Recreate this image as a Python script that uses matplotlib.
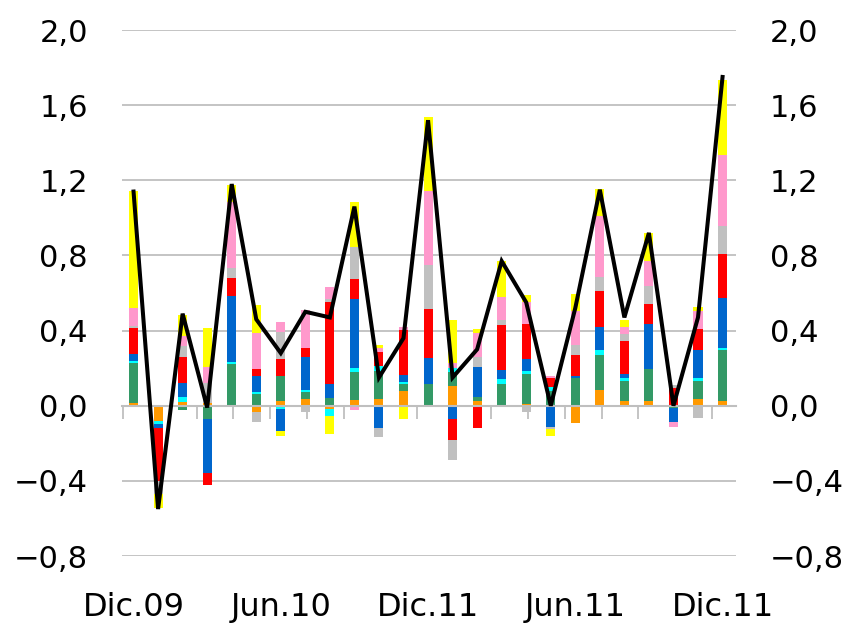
import numpy as np
import matplotlib
matplotlib.use("Agg")
import matplotlib.pyplot as plt
from matplotlib import font_manager
from matplotlib.ticker import FuncFormatter

plt.rcParams["font.family"] = ["DejaVu Sans"]

# narrow face for the month labels when available
instaladas = {f.name for f in font_manager.fontManager.ttflist}
if "Liberation Sans Narrow" in instaladas:
    FUENTE_MES, TAM_MES = "Liberation Sans Narrow", 27
else:
    FUENTE_MES, TAM_MES = "DejaVu Sans", 23

# monthly contributions, Dec-09 .. Dec-11 (25 months)
meses = np.arange(25)
etiquetas = {0: "Dic.09", 6: "Jun.10", 12: "Dic.11", 18: "Jun.11", 24: "Dic.11"}

naranja = [0.012, -0.08, 0.02, 0.012, 0.0, -0.035, 0.023, 0.034, -0.017, 0.029,
           0.036, 0.077, 0.0, 0.104, 0.023, 0.0, 0.01, 0.0, -0.093, 0.084,
           0.023, 0.023, 0.0, 0.034, 0.023]
verde = [0.215, 0.0, -0.023, -0.07, 0.224, 0.06, 0.136, 0.038, 0.04, 0.15,
         0.147, 0.038, 0.115, 0.075, 0.022, 0.115, 0.159, 0.08, 0.147, 0.186,
         0.107, 0.172, -0.01, 0.097, 0.274]
celeste = [0.011, -0.017, 0.029, 0.0, 0.011, 0.011, -0.017, 0.012, -0.038, 0.022,
           0.029, 0.013, 0.0, 0.022, 0.0, 0.029, 0.016, 0.018, 0.0, 0.027,
           0.016, 0.0, 0.0, 0.016, 0.011]
azul = [0.036, -0.023, 0.07, -0.29, 0.35, 0.088, -0.12, 0.175, 0.075, 0.366,
        -0.117, 0.038, 0.14, -0.07, 0.161, 0.048, 0.064, -0.115, 0.012, 0.122,
        0.025, 0.242, -0.077, 0.15, 0.263]
rojo = [0.14, -0.28, 0.14, -0.06, 0.093, 0.038, 0.09, 0.048, 0.438, 0.108,
        0.075, 0.235, 0.258, -0.111, -0.117, 0.235, 0.188, 0.048, 0.111, 0.19,
        0.174, 0.107, 0.095, 0.113, 0.236]
gris = [0.009, -0.07, 0.059, 0.11, 0.056, -0.052, 0.145, -0.033, 0.013, 0.169,
        -0.052, 0.0, 0.237, -0.11, 0.054, 0.027, -0.034, -0.01, 0.054, 0.075,
        0.039, 0.091, 0.016, -0.066, 0.15]
rosa = [0.098, 0.0, 0.054, 0.086, 0.353, 0.19, 0.054, 0.204, 0.066, -0.023,
        0.022, 0.016, 0.395, 0.027, 0.126, 0.124, 0.113, 0.014, 0.18, 0.328,
        0.036, 0.134, -0.027, 0.095, 0.376]
amarillo = [0.62, -0.073, 0.11, 0.204, 0.09, 0.15, -0.026, 0.0, -0.097, 0.239,
            0.014, -0.07, 0.391, 0.226, 0.025, 0.19, 0.038, -0.037, 0.093, 0.14,
            0.038, 0.15, 0.0, 0.018, 0.403]
total = [1.14, -0.55, 0.49, -0.01, 1.18, 0.46, 0.28, 0.50, 0.47, 1.06,
         0.15, 0.36, 1.52, 0.15, 0.30, 0.77, 0.55, 0.0, 0.52, 1.15,
         0.47, 0.92, 0.0, 0.47, 1.75]

series = [
    (naranja, "#FF9900"), (verde, "#339966"), (celeste, "#00FFFF"),
    (azul, "#0066CC"), (rojo, "#FF0000"), (gris, "#C0C0C0"),
    (rosa, "#FF99CC"), (amarillo, "#FFFF00"),
]

GRIS_EJE = "#BFBFBF"

fig = plt.figure(figsize=(8.52, 6.25), dpi=100)
ax = fig.add_axes([0.1432, 0.1104, 0.7207, 0.8416])

pos = np.zeros(len(meses))
neg = np.zeros(len(meses))
for vals, color in series:
    v = np.array(vals)
    base = np.where(v >= 0, pos, neg)
    ax.bar(meses, v, bottom=base, width=0.37, color=color, linewidth=0, zorder=2)
    pos += np.clip(v, 0, None)
    neg += np.clip(v, None, 0)

ax.plot(meses, total, color="black", linewidth=2.9, zorder=4,
        solid_joinstyle="miter")

ax.set_xlim(-0.47, 24.55)
ax.set_ylim(-0.8, 2.0)
ax.set_yticks(np.arange(-0.8, 2.01, 0.4))
fmt = FuncFormatter(lambda v, _: f"{v:.1f}".replace(".", ",").replace("-", "\u2212"))
ax.yaxis.set_major_formatter(fmt)
ax.yaxis.grid(True, color=GRIS_EJE, linewidth=1.3, zorder=0)
ax.set_axisbelow(True)

for s in ["left", "right", "top"]:
    ax.spines[s].set_visible(False)
ax.spines["bottom"].set_position(("data", 0))
ax.spines["bottom"].set_color(GRIS_EJE)
ax.spines["bottom"].set_linewidth(1.5)
ax.spines["bottom"].set_zorder(3)

ax.set_xticks(np.arange(-0.43, 24.0, 1.5))
ax.tick_params(axis="x", direction="out", length=9, width=1.3,
               color=GRIS_EJE, labelbottom=False)
ax.tick_params(axis="y", left=False, right=False, labelleft=True,
               labelright=True, labelsize=22, pad=21)

for i, txt in etiquetas.items():
    ax.text(i, -0.098, txt, transform=ax.get_xaxis_transform(),
            ha="center", va="center", fontsize=TAM_MES, family=FUENTE_MES)

fig.savefig("out.png", dpi=100)
